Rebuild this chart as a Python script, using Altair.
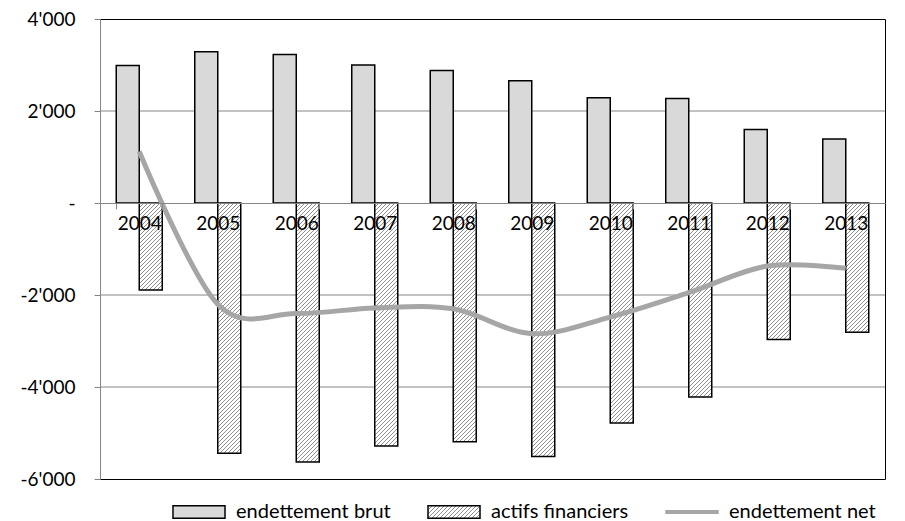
import math
import json
import altair as alt
import pandas as pd

# ---------------- data ----------------
years = ["2004", "2005", "2006", "2007", "2008", "2009", "2010", "2011", "2012", "2013"]
brut = [2990, 3290, 3230, 3000, 2880, 2660, 2290, 2270, 1600, 1390]
actifs = [-1890, -5440, -5630, -5280, -5190, -5510, -4780, -4220, -2970, -2810]
net = [1120, -2200, -2400, -2280, -2300, -2840, -2480, -1950, -1370, -1420]
series = ["endettement brut", "actifs financiers", "endettement net"]
y_ticks = [-6000, -4000, -2000, 0, 2000, 4000]
grid_vals = [-4000, -2000, 2000]

# ---------------- layout / style ----------------
W_PLOT, H_PLOT = 785, 460
Y_MIN, Y_MAX = -6000, 4000
P_IN, P_OUT = 0.414, 0.207
FONT = "Lato"
GRAY = "#868686"
LINE_GRAY = "#a6a6a6"
HATCH = "#8f8f8f"

step = W_PLOT / (len(years) - P_IN + 2 * P_OUT)
bar_w = step * (1 - P_IN) / 2
px_per_unit = H_PLOT / (Y_MAX - Y_MIN)
y0_px = Y_MAX * px_per_unit


def hatch(w, h, period=4.0, lw=1.2, line=HATCH, bg="#ffffff"):
    total = w + h
    k = total / (w * w + h * h)
    stops = []
    n = int(math.ceil(total / period))
    for i in range(n):
        a = min(i * period / total, 1)
        b = min((i * period + lw) / total, 1)
        c = min((i + 1) * period / total, 1)
        stops += [
            {"offset": round(a, 5), "color": line},
            {"offset": round(b, 5), "color": line},
            {"offset": round(b, 5), "color": bg},
            {"offset": round(c, 5), "color": bg},
        ]
    return {"gradient": "linear", "x1": 0, "y1": 0,
            "x2": round(k * w, 6), "y2": round(k * h, 6), "stops": stops}


rows = []
for i, yr in enumerate(years):
    rows.append({"year": yr, "series": series[0], "value": brut[i]})
    rows.append({"year": yr, "series": series[1], "value": actifs[i]})
    rows.append({"year": yr, "series": series[2], "value": net[i]})
df = pd.DataFrame(rows)
df_grid = pd.DataFrame({"v": grid_vals})
df_leg = pd.DataFrame({"series": series, "year": years[0], "value": 0})

label_expr = ("datum.value == 0 ? '-\u00a0\u00a0\u00a0' : "
              "(datum.value < 0 ? '-' : '') + replace(format(abs(datum.value), ','), ',', \"'\")")

x_scale = alt.Scale(domain=years, paddingInner=P_IN, paddingOuter=P_OUT)
y_scale = alt.Scale(domain=[Y_MIN, Y_MAX], nice=False, zero=False)

x_axis = alt.Axis(orient="bottom", offset=-(H_PLOT - y0_px), domainColor=GRAY,
                  tickColor=GRAY, tickSize=6, tickBand="extent", labelFont=FONT,
                  labelFontSize=19, labelColor="black", labelPadding=5, labelAngle=0,
                  grid=False, zindex=1)
y_axis = alt.Axis(values=y_ticks, labelExpr=label_expr, domainColor=GRAY, tickColor=GRAY,
                  tickSize=6, labelPadding=19, labelFont=FONT, labelFontSize=19,
                  labelColor="black", grid=False)

X = alt.X("year:N", scale=x_scale, axis=x_axis, title=None)
Y = alt.Y("value:Q", scale=y_scale, axis=y_axis, title=None)
XOFF = alt.XOffset("series:N", scale=alt.Scale(domain=series[:2], paddingInner=0, paddingOuter=0))

grid = alt.Chart(df_grid).mark_rule(color=GRAY, strokeWidth=1).encode(
    y=alt.Y("v:Q", scale=y_scale, axis=y_axis, title=None))

brut_layer = alt.Chart(df).transform_filter(
    alt.datum.series == series[0]).mark_bar(
    fill="#d9d9d9", stroke="black", strokeWidth=1.5).encode(x=X, y=Y, xOffset=XOFF)

actif_layers = []
for i, yr in enumerate(years):
    h = abs(actifs[i]) * px_per_unit
    actif_layers.append(
        alt.Chart(df).transform_filter(
            (alt.datum.series == series[1]) & (alt.datum.year == yr)
        ).mark_bar(fill=hatch(bar_w, h), stroke="black", strokeWidth=1.5)
        .encode(x=X, y=Y, xOffset=XOFF)
    )

line_layer = alt.Chart(df).transform_filter(
    alt.datum.series == series[2]).mark_line(
    stroke=LINE_GRAY, strokeWidth=5, interpolate="cardinal").encode(x=X, y=Y)

leg_hatch = hatch(52, 12.5)
leg_layer = alt.Chart(df_leg).transform_filter("false").mark_point(
    filled=True, opacity=1).encode(
    x=X, y=Y,
    fill=alt.Fill("series:N", title=None,
                  scale=alt.Scale(domain=series,
                                  range=["#d9d9d9", {"expr": json.dumps(leg_hatch)}, LINE_GRAY])),
    stroke=alt.Stroke("series:N", title=None,
                      scale=alt.Scale(domain=series, range=["#000000", "#000000", LINE_GRAY])),
    shape=alt.Shape("series:N", title=None,
                    scale=alt.Scale(domain=series,
                                    range=["M-1,-0.24H1V0.24H-1Z", "M-1,-0.24H1V0.24H-1Z",
                                           "M-1,-0.05H1V0.05H-1Z"])),
)

chart = alt.layer(grid, brut_layer, *actif_layers, line_layer, leg_layer).properties(
    width=W_PLOT, height=H_PLOT,
    padding={"left": 11, "top": 2, "right": 5, "bottom": 0},
).configure_view(stroke="black", strokeWidth=1).configure_legend(
    orient="none", legendX=72, legendY=466, direction="horizontal",
    columnPadding=34, labelOffset=10, symbolSize=2704, symbolStrokeWidth=1.5,
    labelFont=FONT, labelFontSize=20, labelColor="black", padding=0, symbolOpacity=1,
    labelLimit=400,
)

chart.save("out.html", embed_options={"renderer": "svg", "actions": False})
